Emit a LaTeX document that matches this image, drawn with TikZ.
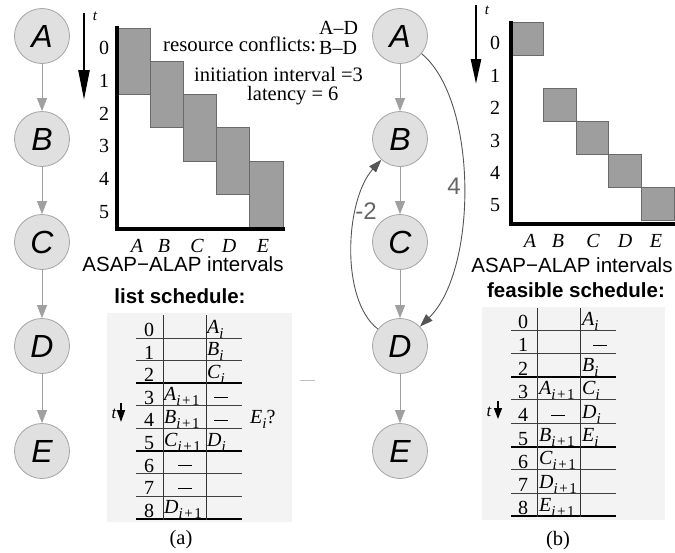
\documentclass[tikz,border=0pt]{standalone}
\usepackage{fontspec}
\setmainfont{Liberation Serif}
\setsansfont{Liberation Sans}
\usetikzlibrary{arrows.meta}

\definecolor{opfill}{HTML}{E0E0E0}
\definecolor{opline}{HTML}{A4A4A4}
\definecolor{depgrey}{HTML}{A0A0A0}
\definecolor{loopgrey}{HTML}{555555}
\definecolor{weightgrey}{HTML}{666666}
\definecolor{barfill}{HTML}{9E9E9E}
\definecolor{barline}{HTML}{6A6A6A}
\definecolor{tablebg}{HTML}{F3F3F3}

\newcommand\fsz[1]{\fontsize{#1}{#1}\selectfont}
% operation instances: X_i and X_{i+1}
\newcommand\Si[1]{\textit{#1}\raisebox{-5pt}{\fsz{15}\textit{i}}}
\newcommand\Sii[1]{\textit{#1}\raisebox{-5pt}{\fsz{15}\textit{i}\kern1.5pt+\kern1.5pt1}}
% empty slot marker
\newcommand\nop{\rule{14pt}{1.3pt}}
% bottom line of a table row
\newcommand\ly[1]{338+22.6*#1}
\newcommand\ry[1]{330+23.3*#1}

\begin{document}
\begin{tikzpicture}[x=1pt,y=-1pt,
  op/.style={circle,draw=opline,fill=opfill,line width=0.8pt,minimum size=55pt,inner sep=0pt,font=\fsz{32}\sffamily\itshape},
  dep/.style={draw=depgrey,line width=1pt,-{Triangle[length=13pt,width=10pt]}},
  loopedge/.style={draw=loopgrey,line width=0.9pt,-{Triangle[length=13pt,width=9pt]}},
  weight/.style={inner sep=0pt,text=weightgrey,font=\fsz{24}\sffamily},
  interval/.style={draw=barline,fill=barfill,line width=1pt},
  axis/.style={line width=4pt,line join=miter},
  tick/.style={inner sep=0pt,font=\fsz{20}},
  serif/.style={inner sep=0pt,anchor=base west,font=\fsz{20.5}},
  colname/.style={inner sep=0pt,anchor=base,font=\fsz{20}\itshape},
  caption/.style={inner sep=0pt,anchor=base,font=\fsz{20.5}\sffamily},
  heading/.style={inner sep=0pt,anchor=base,font=\fsz{20.5}\sffamily\bfseries},
  cell/.style={inner sep=0pt,anchor=base west,font=\fsz{20}},
  rowno/.style={inner sep=0pt,anchor=base,font=\fsz{20}},
  idle/.style={inner sep=0pt,anchor=center},
  tlabel/.style={inner sep=0pt,font=\fsz{15}\itshape},
  timearrow/.style={line width=2.5pt,-{Triangle[length=30pt,width=11pt]}},
  smallarrow/.style={line width=1.5pt,-{Triangle[length=12pt,width=8pt]}},
  rowline/.style={draw=black!75,line width=0.9pt},
  iterline/.style={draw=black,line width=2pt},
  colline/.style={draw=black!80,line width=0.9pt},
]
\path[use as bounding box] (0,0) rectangle (675,552);

% ---------------- (a): dependence chain ----------------
\node[op] (lA) at (42,36)  {A};
\node[op] (lB) at (42,139) {B};
\node[op] (lC) at (42,242) {C};
\node[op] (lD) at (42,346) {D};
\node[op] (lE) at (42,451) {E};
\draw[dep] (lA) -- (lB);
\draw[dep] (lB) -- (lC);
\draw[dep] (lC) -- (lD);
\draw[dep] (lD) -- (lE);

% ASAP-ALAP chart (a)
\foreach \c in {0,...,4}
  \draw[interval] ({117+33.2*\c},{28+33.3*\c}) rectangle ({117+33.2*(\c+1)},{28+33.3*(\c+2)});
\draw[axis] (117,26) -- (117,229) -- (285,229);
\foreach \k in {0,...,5}
  \node[tick] (lt\k) at (104,{48+32.8*\k}) {\k};
\coordinate (ltop) at (84,13);
\coordinate (lbot) at (84,100);
\draw[timearrow] (ltop) -- (lbot);
\node[tlabel] (ltime) at (95,16) {t};
\foreach \n/\x in {A/137,B/164,C/197,D/229,E/263}
  \node[colname] (lc\n) at (\x,252) {\n};
\node[caption] (lcap) at (183,271) {ASAP−ALAP intervals};

\node[serif,font=\fsz{20.8}] (conf) at (163,51) {resource conflicts:};
\node[serif,font=\fsz{20}] (conf1) at (319,34) {A–D};
\node[serif,font=\fsz{20}] (conf2) at (319,54) {B–D};
\node[serif] (ii) at (194,81) {initiation interval =3};
\node[serif] (lat) at (247,100) {latency = 6};

% list schedule (a)
\node[heading] (lhead) at (180,303) {list schedule:};
\fill[tablebg] (107,313) rectangle (292,522);
\foreach \r in {0,...,8}{
  \node[rowno] (lr\r) at (149,{\ly{\r}-1.5}) {\r};
}
\foreach \r in {0,1,3,4,6,7}
  \draw[rowline] (136,{\ly{\r}}) -- (242,{\ly{\r}});
\foreach \r in {2,5,8}
  \draw[iterline] (136,{\ly{\r}}) -- (242,{\ly{\r}});
\draw[colline] (163.3,315) -- (163.3,520);
\draw[colline] (206,315) -- (206,520);
\node[cell] (la0) at (207,{\ly{0}-5}) {\Si{A}};
\node[cell] (la1) at (207,{\ly{1}-5}) {\Si{B}};
\node[cell] (la2) at (207,{\ly{2}-5}) {\Si{C}};
\node[cell] (la3) at (164,{\ly{3}-5}) {\Sii{A}};
\node[idle] (lb3) at (221,{\ly{3}-8}) {\nop};
\node[cell] (la4) at (164,{\ly{4}-5}) {\Sii{B}};
\node[idle] (lb4) at (221,{\ly{4}-8}) {\nop};
\node[cell] (la5) at (164,{\ly{5}-5}) {\Sii{C}};
\node[cell] (lb5) at (207,{\ly{5}-5}) {\Si{D}};
\node[idle] (la6) at (185,{\ly{6}-8}) {\nop};
\node[idle] (la7) at (185,{\ly{7}-8}) {\nop};
\node[cell] (la8) at (164,{\ly{8}-5}) {\Sii{D}};
\node[cell] (lq) at (250,{\ly{4}-5}) {\Si{E}?};
\node[tlabel,anchor=base,font=\fsz{17}\itshape] (ltt) at (114,418) {t};
\coordinate (lttop) at (121,403);
\coordinate (ltbot) at (121,422);
\draw[smallarrow] (lttop) -- (ltbot);
\coordinate (strayA) at (300,380);
\coordinate (strayB) at (315,380);
\draw[draw=black!25,line width=0.8pt] (strayA) -- (strayB);
\node[rowno,font=\fsz{20.5}] (capa) at (181,544) {(a)};

% ---------------- (b): chain with loop-carried edges ----------------
\node[op] (rA) at (400,36)  {A};
\node[op] (rB) at (400,139) {B};
\node[op] (rC) at (400,242) {C};
\node[op] (rD) at (400,346) {D};
\node[op] (rE) at (400,451) {E};
\draw[dep] (rA) -- (rB);
\draw[dep] (rB) -- (rC);
\draw[dep] (rC) -- (rD);
\draw[dep] (rD) -- (rE);
\draw[loopedge] (rA) .. controls (478,100) and (478,270) .. (rD);
\draw[loopedge] (rD) .. controls (340,300) and (345,200) .. (rB);
\node[weight] (w4) at (454,186) {4};
\node[weight] (wm2) at (366,211) {-2};

% ASAP-ALAP chart (b)
\foreach \c/\s in {0/0,1/2,2/3,3/4,4/5}
  \draw[interval] ({511+32.6*\c},{22.5+33*\s}) rectangle ({511+32.6*(\c+1)},{22.5+33*(\s+1)});
\draw[axis] (511,21) -- (511,224) -- (675,224);
\foreach \k in {0,...,5}
  \node[tick] (rt\k) at (495,{43+32.5*\k}) {\k};
\coordinate (rtop) at (476,5);
\coordinate (rbot) at (476,84);
\draw[timearrow,-{Triangle[length=25pt,width=10pt]}] (rtop) -- (rbot);
\node[tlabel] (rtime) at (487,10) {t};
\foreach \n/\x in {A/530,B/558,C/593,D/625,E/656}
  \node[colname] (rc\n) at (\x,247) {\n};
\node[caption] (rcap) at (572,272) {ASAP−ALAP intervals};

% feasible schedule (b)
\node[heading] (rhead) at (576,297) {feasible schedule:};
\fill[tablebg] (482,307) rectangle (665,520);
\foreach \r in {0,...,8}{
  \node[rowno] (rr\r) at (523,{\ry{\r}-1.5}) {\r};
}
\foreach \r in {0,1,3,4,6,7}
  \draw[rowline] (511,{\ry{\r}}) -- (616,{\ry{\r}});
\foreach \r in {2,5,8}
  \draw[iterline] (511,{\ry{\r}}) -- (616,{\ry{\r}});
\draw[colline] (537.7,308) -- (537.7,517);
\draw[colline] (580.7,308) -- (580.7,517);
\node[cell] (rb0) at (582,{\ry{0}-5}) {\Si{A}};
\node[idle] (rb1) at (600,{\ry{1}-8}) {\nop};
\node[cell] (rb2) at (582,{\ry{2}-5}) {\Si{B}};
\node[cell] (ra3) at (539,{\ry{3}-5}) {\Sii{A}};
\node[cell] (rb3) at (582,{\ry{3}-5}) {\Si{C}};
\node[idle] (ra4) at (558,{\ry{4}-8}) {\nop};
\node[cell] (rb4) at (582,{\ry{4}-5}) {\Si{D}};
\node[cell] (ra5) at (539,{\ry{5}-5}) {\Sii{B}};
\node[cell] (rb5) at (582,{\ry{5}-5}) {\Si{E}};
\node[cell] (ra6) at (539,{\ry{6}-5}) {\Sii{C}};
\node[cell] (ra7) at (539,{\ry{7}-5}) {\Sii{D}};
\node[cell] (ra8) at (539,{\ry{8}-5}) {\Sii{E}};
\node[tlabel,anchor=base,font=\fsz{17}\itshape] (rtt) at (489,416) {t};
\coordinate (rttop) at (498,401);
\coordinate (rtbot) at (498,419);
\draw[smallarrow,-{Triangle[length=11pt,width=8pt]}] (rttop) -- (rtbot);
\node[rowno,font=\fsz{20.5}] (capb) at (558,545) {(b)};
\end{tikzpicture}
\end{document}
